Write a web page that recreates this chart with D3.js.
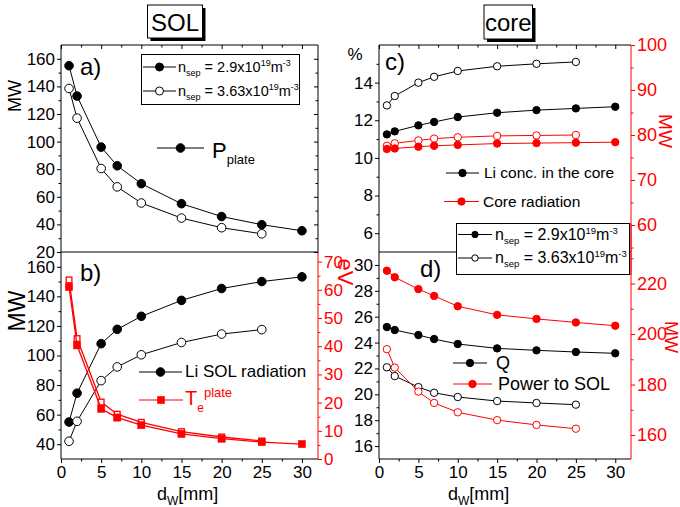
<!DOCTYPE html>
<html><head><meta charset="utf-8">
<script src="https://cdn.jsdelivr.net/npm/d3@7"></script>
<style>body{margin:0;background:#fff}svg{display:block}</style>
</head><body><svg id="c" width="680" height="507"></svg>
<script>
// ---- data ----
const dW = [1,2,5,7,10,15,20,25,30];          // n_sep = 2.9e19
const dW2 = [1,2,5,7,10,15,20,25];            // n_sep = 3.63e19
const pPlate29  = [155,133,96,82.5,69.5,55,45.7,39.8,35.4];
const pPlate363 = [138.5,117,80.5,67.2,55.5,44.6,37.6,33.2];
const liSol29   = [55,74.5,108,117.7,126.5,137.3,145.3,150,153.2];
const liSol363  = [42,55.5,83,92.3,100.5,108.8,114.5,117.5];
const te29      = [61,40.3,17.8,14.7,12.0,8.9,7.2,6.0,5.3];
const te363     = [63.5,42.7,20.2,15.9,13.0,9.7,7.8,6.4];
const liCore29  = [11.25,11.41,11.73,11.91,12.17,12.40,12.54,12.63,12.72];
const liCore363 = [12.79,13.29,14.0,14.31,14.62,14.87,15.0,15.1];
const coreRad29 = [76.9,77.0,77.4,77.6,77.8,78.1,78.2,78.3,78.4];
const coreRad363= [77.6,78.15,78.8,79.2,79.5,79.8,79.9,80.0];
const q29       = [25.2,24.97,24.58,24.27,23.89,23.55,23.4,23.27,23.17];
const q363      = [22.09,21.41,20.56,20.12,19.79,19.48,19.33,19.2];
const pSol29    = [225.1,222.5,217.8,215.1,211.0,207.6,206.0,204.6,203.3];
const pSol363   = [194.0,186.7,177.2,172.7,169.0,165.9,164.0,162.5];

const xTicks = [0,5,10,15,20,25,30];
const aTicks = [20,40,60,80,100,120,140,160];
const bTicks = [40,60,80,100,120,140,160];
const bRTicks = [0,10,20,30,40,50,60,70];
const cTicks = [6,8,10,12,14];
const cRTicks = [60,70,80,90,100];
const dTicks = [16,18,20,22,24,26,28,30];
const dRTicks = [160,180,200,220];

// ---- layout ----
const F = '"Liberation Sans", Arial, Helvetica, sans-serif';
const RED = '#ff0000';
const svg = d3.select('#c');
const LX0=61, LX1=318, RX0=379, RX1=631, YT=45, YM=252, YB=459;

const xL = d3.scaleLinear().domain([0,32]).range([LX0,LX1]);
const xR = d3.scaleLinear().domain([0,32]).range([RX0,RX1]);
const yA = d3.scaleLinear().domain([20,170]).range([YM,YT]);
const yB = d3.scaleLinear().domain([30,170]).range([YB,YM]);
const yB2 = d3.scaleLinear().domain([0,73.4]).range([YB,YM]);
const yC = d3.scaleLinear().domain([5,16]).range([YM,YT]);
const yC2 = d3.scaleLinear().domain([54,100]).range([YM,YT]);
const yD = d3.scaleLinear().domain([15,31]).range([YB,YM]);
const yD2 = d3.scaleLinear().domain([150.5,232.5]).range([YB,YM]);

function line(x1,y1,x2,y2,c){svg.append('line').attr('x1',x1).attr('y1',y1).attr('x2',x2).attr('y2',y2).attr('stroke',c||'#000').attr('stroke-width',1);}

function drawAxis(type, tx, ty, scale, major, minor, color, fs, labels){
  const mk = {left:d3.axisLeft,right:d3.axisRight,bottom:d3.axisBottom,top:d3.axisTop}[type];
  const g = svg.append('g').attr('transform',`translate(${tx},${ty})`);
  const a = mk(scale).tickValues(major).tickSize(4).tickSizeOuter(0).tickPadding(type==='bottom'?3:2);
  if(!labels) a.tickFormat('');
  g.call(a);
  g.attr('font-family',F).attr('font-size',fs);
  g.select('.domain').remove();
  g.selectAll('line').attr('stroke',color);
  g.selectAll('text').attr('fill',color);
  if(minor){
    const g2 = svg.append('g').attr('transform',`translate(${tx},${ty})`);
    g2.call(mk(scale).tickValues(minor).tickSize(2.5).tickSizeOuter(0).tickFormat(''));
    g2.select('.domain').remove();
    g2.selectAll('line').attr('stroke',color);
  }
}
const xMinor = [2.5,7.5,12.5,17.5,22.5,27.5];

// frames
line(LX0,YT,LX1,YT); line(LX0,YT,LX0,YB); line(LX1,YT,LX1,YM); line(LX0,YM,LX1,YM); line(LX0,YB,LX1,YB);
line(LX1,YM,LX1,YB,RED);
line(RX0,YT,RX1,YT); line(RX0,YT,RX0,YB); line(RX0,YM,RX1,YM); line(RX0,YB,RX1,YB);
line(RX1,YT,RX1,YB,RED);

// axes
drawAxis('left',LX0,0,yA,aTicks,[30,50,70,90,110,130,150],'#000',17,true);
drawAxis('left',LX1,0,yA,aTicks,[30,50,70,90,110,130,150],'#000',17,false);
drawAxis('bottom',0,YT,xL,xTicks,xMinor,'#000',17,false);
drawAxis('left',LX0,0,yB,bTicks,[50,70,90,110,130,150],'#000',17,true);
drawAxis('right',LX1,0,yB2,bRTicks,[5,15,25,35,45,55,65],RED,17,true);
drawAxis('bottom',0,YB,xL,xTicks,xMinor,'#000',17,true);
drawAxis('left',RX0,0,yC,cTicks,[7,9,11,13,15],'#000',17,true);
drawAxis('right',RX1,0,yC2,cRTicks,[55,65,75,85,95],RED,18,true);
drawAxis('bottom',0,YT,xR,xTicks,xMinor,'#000',17,false);
drawAxis('left',RX0,0,yD,dTicks,[17,19,21,23,25,27,29],'#000',17,true);
drawAxis('right',RX1,0,yD2,dRTicks,[170,190,210,230],RED,18,true);
drawAxis('bottom',0,YB,xR,xTicks,xMinor,'#000',17,true);

// series
function series(xs, ys, xs_, ys_, color, filled, shape, r, lw){
  const pts = xs.map((d,i)=>[xs_(d), ys_(ys[i])]);
  svg.append('path').attr('d',d3.line()(pts)).attr('fill','none').attr('stroke',color).attr('stroke-width',lw||1);
  pts.forEach(p=>{
    if(shape==='square'){
      const s = filled? r*2 : r*2-1.5;
      svg.append('rect').attr('x',p[0]-s/2).attr('y',p[1]-s/2).attr('width',s).attr('height',s)
        .attr('fill',filled?color:'#fff').attr('stroke',color).attr('stroke-width',filled?0.5:1.3);
    } else {
      svg.append('circle').attr('cx',p[0]).attr('cy',p[1]).attr('r',r)
        .attr('fill',filled?color:'#fff').attr('stroke',color).attr('stroke-width',1);
    }
  });
}
series(dW,pPlate29,xL,yA,'#000',true,'circle',4.3);
series(dW2,pPlate363,xL,yA,'#000',false,'circle',4.3);
series(dW,liSol29,xL,yB,'#000',true,'circle',4.3);
series(dW2,liSol363,xL,yB,'#000',false,'circle',4.3);
series(dW2,te363,xL,yB2,RED,false,'square',3.6,1.3);
series(dW,te29,xL,yB2,RED,true,'square',3.6,1.3);
series(dW,liCore29,xR,yC,'#000',true,'circle',3.7);
series(dW2,liCore363,xR,yC,'#000',false,'circle',3.7);
series(dW2,coreRad363,xR,yC2,RED,false,'circle',3.7);
series(dW,coreRad29,xR,yC2,RED,true,'circle',3.7);
series(dW,q29,xR,yD,'#000',true,'circle',3.7);
series(dW2,q363,xR,yD,'#000',false,'circle',3.7);
series(dW,pSol29,xR,yD2,RED,true,'circle',3.7);
series(dW2,pSol363,xR,yD2,RED,false,'circle',3.7);

// text helper
function txt(x,y,s,fs,opts){
  opts=opts||{};
  const t = svg.append('text').attr('x',x).attr('y',y).attr('font-family',F).attr('font-size',fs)
    .attr('fill',opts.fill||'#000').attr('text-anchor',opts.anchor||'start');
  if(opts.rot) t.attr('transform',`rotate(${opts.rot},${x},${y})`);
  if(Array.isArray(s)){
    s.forEach(p=>{ const ts=t.append('tspan').text(p[0]).attr('font-size',p[1]||fs); if(p[2]) ts.attr('dy',p[2]); });
  } else t.text(s);
  return t;
}
function legMark(x1,x2,y,color,filled,shape,r){
  line(x1,y,x2,y,color);
  const cx=(x1+x2)/2;
  if(shape==='square') svg.append('rect').attr('x',cx-r).attr('y',y-r).attr('width',2*r).attr('height',2*r).attr('fill',color);
  else svg.append('circle').attr('cx',cx).attr('cy',y).attr('r',r).attr('fill',filled?color:'#fff').attr('stroke',color);
}
function nsep(x,y,val,fs,sfs){
  return txt(x,y,[['n',fs],['sep',sfs,sfs*0.45],[' = '+val+'x10',fs,-sfs*0.45],['19',sfs,-fs*0.4],['m',fs,fs*0.4],['-3',sfs,-fs*0.4]],fs);
}

// titles
function title(x,y,w,h,s,cx,by){
  svg.append('rect').attr('x',x+3).attr('y',y+3).attr('width',w).attr('height',h).attr('fill','#000');
  svg.append('rect').attr('x',x).attr('y',y).attr('width',w).attr('height',h).attr('fill','#fff').attr('stroke','#000');
  txt(cx,by,s,24,{anchor:'middle'});
}
title(147.5,5,55,33,'SOL',175,31);
title(484,5,48.5,34,'core',508.3,31);

// axis labels
txt(21,96,'MW',18,{anchor:'middle',rot:-90});
txt(25,311,'MW',23,{anchor:'middle',rot:-90});
txt(338,272,'eV',22,{anchor:'middle',rot:90,fill:RED});
txt(355,60,'%',17,{anchor:'middle'});
txt(659,131,'MW',19,{anchor:'middle',rot:90,fill:RED});
txt(665,337,'MW',18,{anchor:'middle',rot:90,fill:RED});
txt(157,500,[['d',18],['W',12,5],['[mm]',18,-5]],18);
txt(448,500,[['d',18],['W',12,5],['[mm]',18,-5]],18);

// panel labels
txt(80,75,'a)',24); txt(80,281,'b)',24); txt(385,70,'c)',24); txt(420,277,'d)',24);

// legend a (n_sep)
svg.append('rect').attr('x',141.5).attr('y',54.5).attr('width',158).attr('height',50).attr('fill','#fff').attr('stroke','#000');
legMark(143,176,67,'#000',true,'circle',4);
nsep(178,72,'2.9',14.5,9);
legMark(143,176,91,'#000',false,'circle',4);
nsep(178,96,'3.63',14.5,9);

// P_plate
legMark(157,204,148,'#000',true,'circle',4.3);
txt(212,158,[['P',22],['plate',13,6]],22);

// legend b
legMark(139,182,372,'#000',true,'circle',4.3);
txt(185,377,'Li SOL radiation',17);
legMark(139,183,400,RED,true,'square',3.8);
txt(185,405,[['T',20],['e',12,7],['plate',13,-15]],20,{fill:RED});

// legend c
legMark(446,479,173,'#000',true,'circle',3.7);
txt(484,178,'Li conc. in the core',15.5);
legMark(444,479,201.5,RED,true,'circle',3.7);
txt(483,207,'Core radiation',15.5);

// legend c/d n_sep box
svg.append('rect').attr('x',456.5).attr('y',223.5).attr('width',173).attr('height',51).attr('fill','#fff').attr('stroke','#000');
legMark(458,492,234.5,'#000',true,'circle',3.2);
nsep(495,240,'2.9',16,9.5);
legMark(458,492,258,'#000',false,'circle',3.2);
nsep(495,263,'3.63',16,9.5);
line(RX1,223.5,RX1,275,RED);

// legend d
legMark(453,487,363,'#000',true,'circle',3.7);
txt(496,369,'Q',18);
legMark(453,492,384,RED,true,'circle',3.7);
txt(498,390,'Power to SOL',18);
</script>
</body></html>
